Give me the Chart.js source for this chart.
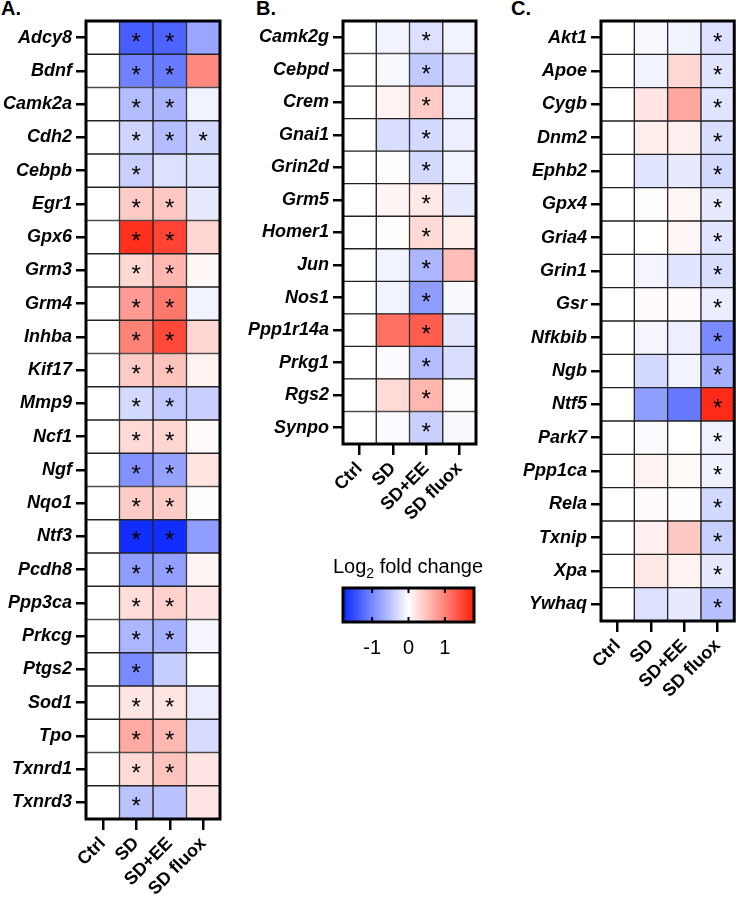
<!DOCTYPE html>
<html>
<head>
<meta charset="utf-8">
<script src="https://cdn.jsdelivr.net/npm/chart.js@4"></script>
<style>
  body { margin: 0; background: #fff; font-family: 'Liberation Sans', Arial, sans-serif; }
  #wrap { position: relative; width: 736px; height: 897px; overflow: hidden; }
  canvas { position: absolute; }
  .tag { position: absolute; top: -2px; font-size: 20px; font-weight: bold; line-height: 20px; }
  #cbTitle { position: absolute; left: 308px; top: 554px; width: 200px; text-align: center; font-size: 20px; line-height: 24px; }
</style>
</head>
<body>
<div id="wrap">
  <div class="tag" style="left:1px">A.</div>
  <div class="tag" style="left:256px">B.</div>
  <div class="tag" style="left:511px">C.</div>
  <canvas id="chartA" width="224" height="897" style="left:0;top:0"></canvas>
  <canvas id="chartB" width="250" height="540" style="left:230px;top:0"></canvas>
  <canvas id="chartC" width="246" height="720" style="left:490px;top:0"></canvas>
  <div id="cbTitle">Log<sub style="font-size:14px">2</sub> fold change</div>
  <canvas id="colorBar" width="152" height="90" style="left:333px;top:578px"></canvas>
</div>
<script>
const FONT = "'Liberation Sans', Arial, sans-serif";
const groups = ['Ctrl', 'SD', 'SD+EE', 'SD fluox'];

// panel A
const genesA = ['Adcy8', 'Bdnf', 'Camk2a', 'Cdh2', 'Cebpb', 'Egr1', 'Gpx6', 'Grm3', 'Grm4', 'Inhba', 'Kif17', 'Mmp9',
  'Ncf1', 'Ngf', 'Nqo1', 'Ntf3', 'Pcdh8', 'Ppp3ca', 'Prkcg', 'Ptgs2', 'Sod1', 'Tpo', 'Txnrd1', 'Txnrd3'];
const ctrlA  = [0, 0, 0, 0, 0, 0, 0, 0, 0, 0, 0, 0, 0, 0, 0, 0, 0, 0, 0, 0, 0, 0, 0, 0];
const sdA    = [-1.35, -1.05, -0.55, -0.35, -0.4, 0.42, 1.65, 0.32, 0.8, 1.0, 0.42, -0.32, 0.3, -0.92, 0.42, -1.75, -0.82, 0.27, -0.6, -0.98, 0.2, 0.68, 0.3, -0.5];
const sdeeA  = [-1.3, -1.1, -0.62, -0.55, -0.25, 0.45, 1.5, 0.58, 1.08, 1.45, 0.48, -0.45, 0.33, -0.78, 0.42, -1.75, -0.8, 0.37, -0.66, -0.42, 0.22, 0.56, 0.48, -0.5];
const fluoxA = [-0.75, 0.95, -0.1, -0.32, -0.22, -0.18, 0.33, 0.06, -0.1, 0.33, 0.1, -0.4, 0.04, 0.22, 0.02, -0.82, 0.08, 0.2, -0.08, 0, -0.15, -0.3, 0.2, 0.2];
const starsSdA    = [1, 1, 1, 1, 1, 1, 1, 1, 1, 1, 1, 1, 1, 1, 1, 1, 1, 1, 1, 1, 1, 1, 1, 1];
const starsSdeeA  = [1, 1, 1, 1, 0, 1, 1, 1, 1, 1, 1, 1, 1, 1, 1, 1, 1, 1, 1, 0, 1, 1, 1, 0];
const starsFluoxA = [0, 0, 0, 1, 0, 0, 0, 0, 0, 0, 0, 0, 0, 0, 0, 0, 0, 0, 0, 0, 0, 0, 0, 0];

// panel B
const genesB = ['Camk2g', 'Cebpd', 'Crem', 'Gnai1', 'Grin2d', 'Grm5', 'Homer1', 'Jun', 'Nos1', 'Ppp1r14a', 'Prkg1', 'Rgs2', 'Synpo'];
const ctrlB  = [0, 0, 0, 0, 0, 0, 0, 0, 0, 0, 0, 0, 0];
const sdB    = [-0.1, -0.05, 0.1, -0.28, 0.02, 0.08, 0.02, -0.1, -0.1, 1.15, -0.03, 0.3, -0.04];
const sdeeB  = [-0.25, -0.45, 0.42, -0.32, -0.32, 0.18, 0.3, -0.6, -0.82, 1.3, -0.55, 0.58, -0.4];
const fluoxB = [-0.1, -0.25, -0.12, -0.13, -0.1, -0.18, 0.14, 0.52, -0.05, -0.2, -0.28, 0.02, -0.05];
const starsSdB    = [0, 0, 0, 0, 0, 0, 0, 0, 0, 0, 0, 0, 0];
const starsSdeeB  = [1, 1, 1, 1, 1, 1, 1, 1, 1, 1, 1, 1, 1];
const starsFluoxB = [0, 0, 0, 0, 0, 0, 0, 0, 0, 0, 0, 0, 0];

// panel C
const genesC = ['Akt1', 'Apoe', 'Cygb', 'Dnm2', 'Ephb2', 'Gpx4', 'Gria4', 'Grin1', 'Gsr', 'Nfkbib', 'Ngb', 'Ntf5',
  'Park7', 'Ppp1ca', 'Rela', 'Txnip', 'Xpa', 'Ywhaq'];
const ctrlC  = [0, 0, 0, 0, 0, 0, 0, 0, 0, 0, 0, 0, 0, 0, 0, 0, 0, 0];
const sdC    = [-0.05, -0.1, 0.2, 0.14, -0.22, 0.02, 0, -0.08, 0.03, -0.08, -0.32, -0.82, -0.03, 0.1, 0.04, 0.12, 0.18, -0.25];
const sdeeC  = [-0.1, 0.32, 0.7, 0.12, -0.18, 0.07, 0.07, -0.22, 0.04, -0.13, -0.1, -1.12, 0, 0.05, 0.01, 0.44, 0.1, -0.18];
const fluoxC = [-0.25, -0.22, -0.22, -0.28, -0.32, -0.18, -0.22, -0.28, -0.15, -0.98, -0.66, 1.7, -0.12, -0.12, -0.32, -0.4, -0.18, -0.52];
const starsSdC    = [0, 0, 0, 0, 0, 0, 0, 0, 0, 0, 0, 0, 0, 0, 0, 0, 0, 0];
const starsSdeeC  = [0, 0, 0, 0, 0, 0, 0, 0, 0, 0, 0, 0, 0, 0, 0, 0, 0, 0];
const starsFluoxC = [1, 1, 1, 1, 1, 1, 1, 1, 1, 1, 1, 1, 1, 1, 1, 1, 1, 1];

// colour scale
const scaleMin = -1.8;
const scaleMax = 1.8;
const colorTicks = [-1, 0, 1];
const blueEnd = [10, 40, 255];
const redEnd = [255, 30, 10];

function colorFor(v) {
  const end = v < 0 ? blueEnd : redEnd;
  let t = v < 0 ? v / scaleMin : v / scaleMax;
  t = Math.max(0, Math.min(1, t));
  const c = end.map(e => Math.round(255 + (e - 255) * t));
  return `rgb(${c[0]},${c[1]},${c[2]})`;
}

// stars + outer frame
const heatPlugin = {
  id: 'heat',
  afterDatasetsDraw(chart) {
    const ctx = chart.ctx;
    ctx.save();
    ctx.fillStyle = '#000';
    ctx.font = `24px ${FONT}`;
    ctx.textAlign = 'center';
    ctx.textBaseline = 'alphabetic';
    chart.data.datasets.forEach((ds, j) => {
      const meta = chart.getDatasetMeta(j);
      meta.data.forEach((bar, i) => {
        if (!ds.stars[i]) return;
        const p = bar.getProps(['x', 'y', 'base'], true);
        ctx.fillText('*', (p.x + p.base) / 2, p.y + 12);
      });
    });
    const a = chart.chartArea;
    ctx.strokeStyle = '#000';
    ctx.lineWidth = 3;
    ctx.strokeRect(a.left, a.top, a.right - a.left, a.bottom - a.top);
    ctx.restore();
  }
};

function makeHeatmap(id, genes, values, stars, yWidth, xHeight, padRight) {
  const datasets = groups.map((g, j) => ({
    label: g,
    data: genes.map(() => 1),
    backgroundColor: values[j].map(colorFor),
    stars: stars[j],
    borderColor: '#222',
    borderWidth: 1,
    borderSkipped: false,
    barPercentage: 1,
    categoryPercentage: 1
  }));

  return new Chart(document.getElementById(id), {
    type: 'bar',
    data: { labels: genes, datasets: datasets },
    plugins: [heatPlugin],
    options: {
      indexAxis: 'y',
      responsive: false,
      animation: false,
      layout: { padding: { top: 21, right: padRight, left: 0, bottom: 0 } },
      plugins: { legend: { display: false }, tooltip: { enabled: false } },
      scales: {
        y: {
          type: 'category',
          stacked: true,
          offset: true,
          border: { display: false },
          grid: { drawOnChartArea: false, offset: false, tickLength: 10, lineWidth: 2.5, color: '#000' },
          ticks: { color: '#000', padding: 4, autoSkip: false, font: { family: FONT, size: 18, style: 'italic', weight: 'bold' } },
          afterFit: s => { s.width = yWidth; }
        },
        x: {
          type: 'linear',
          stacked: true,
          min: 0,
          max: groups.length,
          border: { display: false },
          grid: { drawOnChartArea: false, tickLength: 11, lineWidth: 2.5, color: '#000' },
          afterBuildTicks: s => { s.ticks = groups.map((g, i) => ({ value: i + 0.5 })); },
          ticks: {
            callback: (v, i) => groups[i],
            minRotation: 45,
            maxRotation: 45,
            autoSkip: false,
            color: '#000',
            padding: 3,
            font: { family: FONT, size: 18, weight: 'bold' }
          },
          afterFit: s => { s.height = xHeight; }
        }
      }
    }
  });
}

makeHeatmap('chartA', genesA, [ctrlA, sdA, sdeeA, fluoxA], [ctrlA, starsSdA, starsSdeeA, starsFluoxA], 86, 78, 4);
makeHeatmap('chartB', genesB, [ctrlB, sdB, sdeeB, fluoxB], [ctrlB, starsSdB, starsSdeeB, starsFluoxB], 113, 96, 4);
makeHeatmap('chartC', genesC, [ctrlC, sdC, sdeeC, fluoxC], [ctrlC, starsSdC, starsSdeeC, starsFluoxC], 111, 99, 1);

// colour bar legend
const colorBarPlugin = {
  id: 'colorBar',
  beforeDatasetsDraw(chart) {
    const ctx = chart.ctx;
    const a = chart.chartArea;
    const xs = chart.scales.x;
    const grad = ctx.createLinearGradient(a.left, 0, a.right, 0);
    const steps = 36;
    for (let k = 0; k <= steps; k++) {
      const v = scaleMin + (scaleMax - scaleMin) * k / steps;
      grad.addColorStop((xs.getPixelForValue(v) - a.left) / (a.right - a.left), colorFor(v));
    }
    ctx.save();
    ctx.fillStyle = grad;
    ctx.fillRect(a.left, a.top, a.right - a.left, a.bottom - a.top);
    ctx.strokeStyle = '#000';
    ctx.lineWidth = 2;
    colorTicks.forEach(v => {
      const px = xs.getPixelForValue(v);
      ctx.beginPath();
      ctx.moveTo(px, a.top);
      ctx.lineTo(px, a.top + 5);
      ctx.moveTo(px, a.bottom);
      ctx.lineTo(px, a.bottom - 5);
      ctx.stroke();
    });
    ctx.lineWidth = 3;
    ctx.strokeRect(a.left, a.top, a.right - a.left, a.bottom - a.top);
    ctx.restore();
  }
};

new Chart(document.getElementById('colorBar'), {
  type: 'scatter',
  data: { datasets: [{ data: [] }] },
  plugins: [colorBarPlugin],
  options: {
    responsive: false,
    animation: false,
    layout: { padding: { top: 10, left: 10, right: 11, bottom: 0 } },
    plugins: { legend: { display: false }, tooltip: { enabled: false } },
    scales: {
      y: { display: false, min: 0, max: 1 },
      x: {
        type: 'linear',
        min: scaleMin,
        max: scaleMax,
        border: { display: false },
        grid: { display: false, drawTicks: false },
        afterBuildTicks: s => { s.ticks = colorTicks.map(v => ({ value: v })); },
        ticks: { color: '#000', padding: 14, font: { family: FONT, size: 20 } },
        afterFit: s => { s.height = 46; }
      }
    }
  }
});
</script>
</body>
</html>
